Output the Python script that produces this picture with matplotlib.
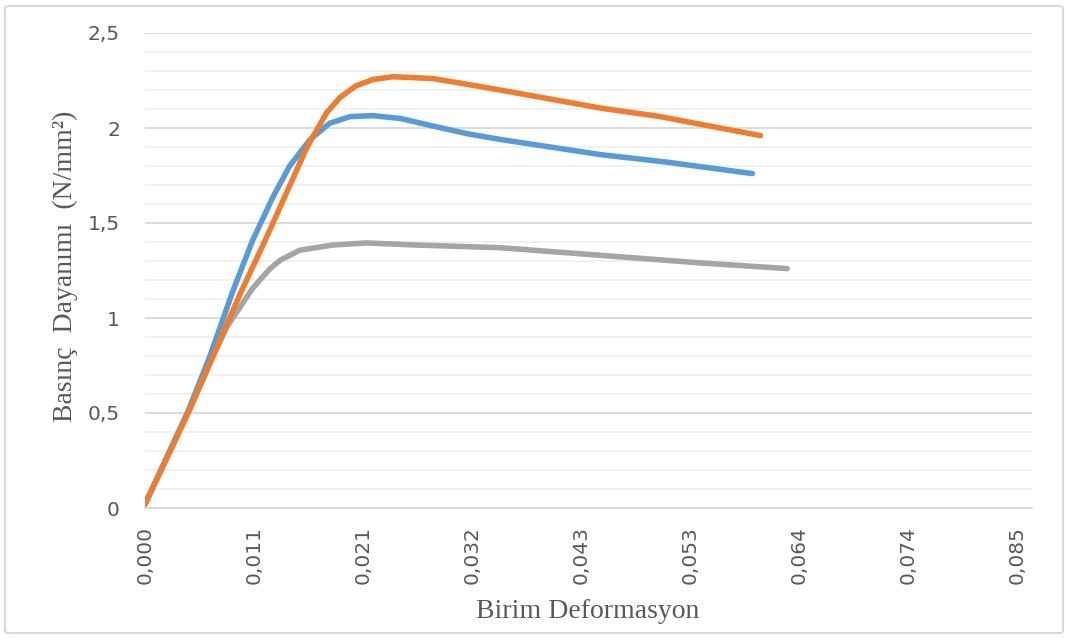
import matplotlib
matplotlib.use("Agg")
import matplotlib.pyplot as plt
from matplotlib.patches import FancyBboxPatch
from matplotlib.ticker import FixedLocator, MultipleLocator

# strain / stress
blue_strain = [0.0, 0.0042, 0.0063, 0.0086, 0.0105, 0.0125, 0.0141, 0.0161, 0.0180,
               0.0200, 0.0222, 0.0249, 0.0281, 0.0314, 0.0346, 0.0444, 0.0509, 0.0592]
blue_stress = [0.02, 0.51, 0.795, 1.147, 1.41, 1.64, 1.80, 1.94, 2.025,
               2.06, 2.065, 2.05, 2.01, 1.97, 1.94, 1.86, 1.82, 1.76]

orange_strain = [0.0, 0.0042, 0.0066, 0.0093, 0.0119, 0.0138, 0.0158, 0.0177, 0.0190,
                 0.0205, 0.0222, 0.0242, 0.0281, 0.0314, 0.0346, 0.0444, 0.0502, 0.0541, 0.0600]
orange_stress = [0.02, 0.50, 0.795, 1.13, 1.43, 1.66, 1.90, 2.08, 2.16,
                 2.22, 2.255, 2.27, 2.26, 2.23, 2.20, 2.105, 2.06, 2.02, 1.96]

gray_strain = [0.0, 0.0042, 0.0066, 0.0080, 0.0093, 0.0104, 0.0112, 0.0122, 0.0132,
               0.0151, 0.0183, 0.0216, 0.0265, 0.0346, 0.0444, 0.0541, 0.0626]
gray_stress = [0.02, 0.50, 0.795, 0.955, 1.06, 1.15, 1.20, 1.26, 1.305,
               1.357, 1.384, 1.395, 1.384, 1.37, 1.33, 1.29, 1.26]

x_step = 0.085 / 8
x_ticks = [i * x_step for i in range(9)]
y_ticks = [0, 0.5, 1, 1.5, 2, 2.5]

TXT = "#595959"

fig = plt.figure(figsize=(10.66, 6.39), dpi=100)
ax = fig.add_axes([145 / 1066, 1 - 508 / 639, (1032 - 145) / 1066, (508 - 33) / 639])

# light rounded frame round the chart
frame = FancyBboxPatch((5 / 1066, 6 / 639), 1058 / 1066, 627 / 639,
                       boxstyle="round,pad=0,rounding_size=0.004",
                       transform=fig.transFigure, facecolor="none",
                       edgecolor="#d9d9d9", linewidth=1.5, zorder=0)
fig.patches.append(frame)

lw = 4.0
style = dict(lw=lw, solid_capstyle="round", solid_joinstyle="round")
ax.plot(gray_strain, gray_stress, color="#a5a5a5", zorder=3, **style)
ax.plot(blue_strain, blue_stress, color="#5b9bd5", zorder=4, **style)
ax.plot(orange_strain, orange_stress, color="#ed7d31", zorder=5, **style)

ax.set_xlim(0, (1032 - 145) / 109 * x_step)
ax.set_ylim(0, 2.5)
ax.xaxis.set_major_locator(FixedLocator(x_ticks))
ax.set_xticklabels([f"{v:.3f}".replace(".", ",") for v in x_ticks], rotation=90)
ax.yaxis.set_major_locator(FixedLocator(y_ticks))
ax.set_yticklabels([f"{v:g}".replace(".", ",") for v in y_ticks])
ax.yaxis.set_minor_locator(MultipleLocator(0.1))

ax.grid(axis="y", which="major", color="#d9d9d9", lw=1.3, zorder=1)
ax.grid(axis="y", which="minor", color="#f0f0f0", lw=1.3, zorder=1)
ax.set_axisbelow(True)
for s in ["top", "right", "left"]:
    ax.spines[s].set_visible(False)
ax.spines["bottom"].set_color("#d9d9d9")
ax.spines["bottom"].set_linewidth(1.3)
ax.tick_params(axis="both", which="both", length=0, colors=TXT, labelsize=14.5)
ax.tick_params(axis="y", pad=18)
ax.tick_params(axis="x", pad=13)
for lab in ax.get_xticklabels() + ax.get_yticklabels():
    lab.set_family("DejaVu Sans")

fig.text(588 / 1066, 1 - 612 / 639, "Birim Deformasyon", ha="center", va="center",
         fontsize=20, color=TXT, family="Liberation Serif")
fig.text(65 / 1066, 1 - 266 / 639, "Basınç  Dayanımı  (N/mm²)", ha="center", va="center",
         rotation=90, fontsize=20, color=TXT, family="Liberation Serif")

fig.savefig("out.png", dpi=100)
